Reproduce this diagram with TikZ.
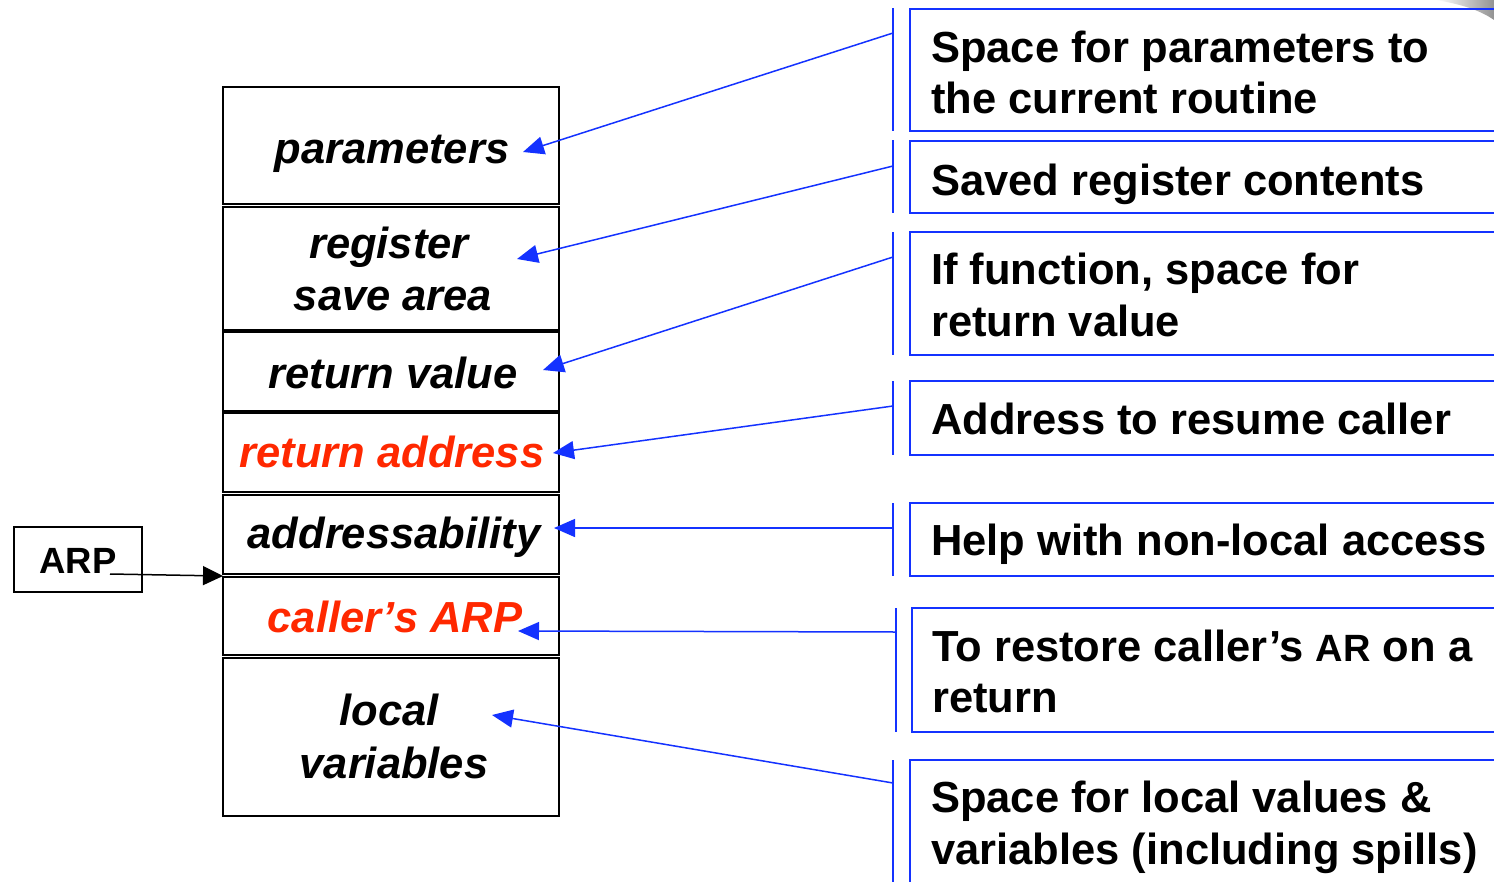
\documentclass[tikz,border=0pt]{standalone}
\usepackage{fontspec}
\setmainfont{Liberation Sans}
\usetikzlibrary{arrows.meta}
\definecolor{ablue}{RGB}{20,50,255}
\definecolor{ared}{RGB}{255,40,0}
\tikzset{
  rowbox/.style={draw, line width=2.5pt, minimum width=336pt, anchor=north west, inner sep=0pt, outer sep=0pt},
  lbl/.style={font=\fontsize{43.5}{52}\selectfont\bfseries\itshape, anchor=base, inner sep=0pt},
  desc/.style={font=\fontsize{43.5}{52}\selectfont\bfseries, anchor=base west, inner sep=0pt},
  infobox/.style={draw=ablue, line width=2pt, anchor=north west, inner sep=0pt, outer sep=0pt, minimum width=640pt},
  bracket/.style={draw=ablue, line width=1.5pt},
  callout/.style={draw=ablue, line width=1.5pt, -{Triangle[length=21pt,width=18pt,fill=ablue]}},
}
\begin{document}
\begin{tikzpicture}[x=1pt,y=-1pt]
\useasboundingbox (0,0) rectangle (1494,881);
\clip (0,0) rectangle (1494,881);
\fill[white] (0,0) rectangle (1494,881);

% decoration in top right corner
\shade[left color=white, right color=gray!85] (1436,0) .. controls (1460,4) and (1480,10) .. (1494,20) -- (1494,0) -- cycle;

% ---- stack of the activation record ----
\node[rowbox, minimum height=117pt] (r1) at (223,87) {};
\node[rowbox, minimum height=123pt] (r2) at (223,207) {};
\node[rowbox, minimum height=79pt]  (r3) at (223,332) {};
\node[rowbox, minimum height=79pt]  (r4) at (223,413) {};
\node[rowbox, minimum height=79pt]  (r5) at (223,495) {};
\node[rowbox, minimum height=78pt]  (r6) at (223,577) {};
\node[rowbox, minimum height=158pt] (r7) at (223,658) {};

\node[lbl] (tparam) at (392,163) {parameters};
\node[lbl] (treg1) at (389,258) {register};
\node[lbl] (treg2) at (393,310) {save area};
\node[lbl] (tretv) at (393,388) {return value};
\node[lbl, text=ared] (tretad) at (392,467) {return address};
\node[lbl] (taddr) at (394,548) {addressability};
\node[lbl, text=ared] (tcarp) at (395,632) {caller’s ARP};
\node[lbl] (tloc1) at (389,725) {local};
\node[lbl] (tloc2) at (394,778) {variables};

% ---- ARP pointer ----
\node[draw, line width=1.5pt, minimum width=128pt, minimum height=65pt, anchor=north west, inner sep=0pt, outer sep=0pt] (arp) at (14,527) {};
\node[font=\fontsize{36.5}{40}\selectfont\bfseries, anchor=base, inner sep=0pt] (tarp) at (78,573) {ARP};
\coordinate (arpstart) at (110,574);
\coordinate (arptip) at (223,576);
\draw[line width=1.5pt, -{Triangle[length=20pt,width=19pt]}] (arpstart) -- (arptip);

% ---- descriptions on the right ----
\node[infobox, minimum height=122pt] (b1) at (910,9) {};
\node[infobox, minimum height=72pt]  (b2) at (910,141) {};
\node[infobox, minimum height=123pt] (b3) at (910,232) {};
\node[infobox, minimum height=74pt]  (b4) at (910,381) {};
\node[infobox, minimum height=73pt]  (b5) at (910,503) {};
\node[infobox, minimum height=124pt] (b6) at (912,608) {};
\node[infobox, minimum height=140pt] (b7) at (910,760) {};

\node[desc] (d1a) at (931,62) {Space for parameters to};
\node[desc] (d1b) at (931,113) {the current routine};
\node[desc] (d2)  at (931,195) {Saved register contents};
\node[desc] (d3a) at (931,284) {If function, space for};
\node[desc] (d3b) at (931,336) {return value};
\node[desc] (d4)  at (931,434) {Address to resume caller};
\node[desc] (d5)  at (931,555) {Help with non-local access};
\node[desc] (d6a) at (932,661) {To restore caller’s {\fontsize{38}{40}\selectfont AR} on a};
\node[desc] (d6b) at (932,712) {return};
\node[desc] (d7a) at (931,812) {Space for local values \&};
\node[desc] (d7b) at (931,864) {variables (including spills)};

% ---- brackets ----
\draw[bracket] (893,8) -- (893,131);
\draw[bracket] (893,140) -- (893,213);
\draw[bracket] (893,232) -- (893,355);
\draw[bracket] (893,381) -- (893,455);
\draw[bracket] (893,503) -- (893,576);
\draw[bracket] (896,608) -- (896,732);
\draw[bracket] (893,760) -- (893,890);

% ---- callout arrows ----
\coordinate (s1) at (893,33);   \coordinate (e1) at (523,152);
\coordinate (s2) at (893,166);  \coordinate (e2) at (517,259);
\coordinate (s3) at (893,257);  \coordinate (e3) at (543,370);
\coordinate (s4) at (893,406);  \coordinate (e4) at (553,453);
\coordinate (s5) at (893,528);  \coordinate (e5) at (554,528);
\coordinate (s6) at (896,632);  \coordinate (e6) at (518,631);
\coordinate (s7) at (893,783);  \coordinate (e7) at (492,715);
\foreach \i in {1,...,7} { \draw[callout] (s\i) -- (e\i); }
\end{tikzpicture}
\end{document}
